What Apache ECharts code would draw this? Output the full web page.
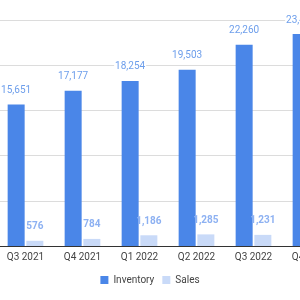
<!DOCTYPE html>
<html>
<head>
<meta charset="utf-8">
<script src="https://cdn.jsdelivr.net/npm/echarts@6/dist/echarts.min.js"></script>
<style>html,body{margin:0;padding:0;background:#fff}#c{width:300px;height:300px}</style>
</head>
<body>
<div id="c"></div>
<script>
const categories = ['Q3 2021', 'Q4 2021', 'Q1 2022', 'Q2 2022', 'Q3 2022', 'Q4 2022'];
const inventory = [15651, 17177, 18254, 19503, 22260, 23450];
const sales = [576, 784, 1186, 1285, 1231, 1250];
const seriesNames = ['Inventory', 'Sales'];

const chart = echarts.init(document.getElementById('c'), null, {renderer: 'canvas'});
const fmt = p => p.value.toLocaleString('en-US');
chart.setOption({
  animation: false,
  textStyle: {fontFamily: 'Roboto'},
  grid: {left: -3, width: 342, top: 20, height: 226, containLabel: false, outerBoundsMode: 'none'},
  legend: {
    data: seriesNames, bottom: 10, left: 'center', itemWidth: 8, itemHeight: 8, itemGap: 8,
    icon: 'rect', textStyle: {fontSize: 10, color: '#444', fontFamily: 'Roboto'}
  },
  xAxis: {
    type: 'category', data: categories,
    axisLine: {lineStyle: {color: '#333', width: 1}},
    axisTick: {show: false},
    axisLabel: {fontSize: 10, color: '#444', margin: 6, interval: 0, fontFamily: 'Roboto'}
  },
  yAxis: {
    type: 'value', min: 0, max: 25000, interval: 5000,
    axisLabel: {show: false}, axisLine: {show: false}, axisTick: {show: false},
    splitLine: {lineStyle: {color: '#dcdcdc'}}
  },
  series: [
    {name: seriesNames[0], type: 'bar', data: inventory, barWidth: 17, barGap: '10%',
     itemStyle: {color: '#4a86e8'},
     label: {show: true, position: 'top', distance: 9, formatter: fmt, fontSize: 10,
             color: '#6d9eeb', fontFamily: 'Roboto', backgroundColor: '#fff', padding: [0, 1]}},
    {name: seriesNames[1], type: 'bar', data: sales, barWidth: 17,
     itemStyle: {color: '#c9daf8'},
     label: {show: true, position: 'top', distance: 9, formatter: fmt, fontSize: 10, fontWeight: 'bold',
             color: '#8db1f2', fontFamily: 'Roboto'}}
  ]
});
</script>
</body>
</html>
